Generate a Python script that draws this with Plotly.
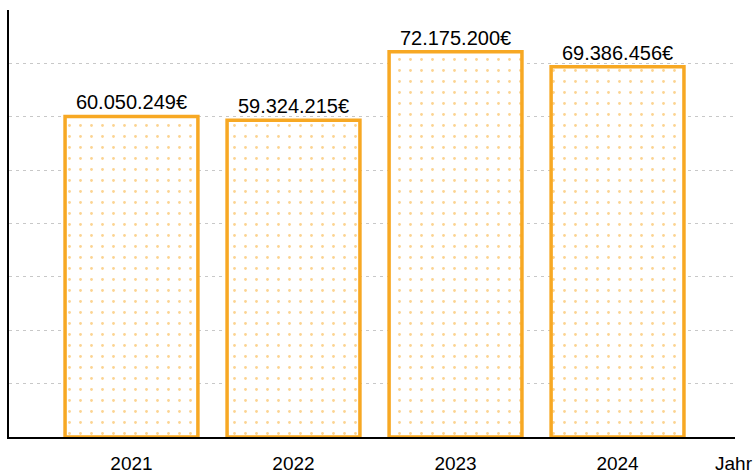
import plotly.graph_objects as go

years = ["2021", "2022", "2023", "2024"]
values = [60050249, 59324215, 72175200, 69386456]
axis_title = "Jahr"

orange = "#F7A823"

fig = go.Figure(go.Bar(
    x=years, y=values,
    width=0.82,
    marker=dict(
        color="white",
        line=dict(color=orange, width=3.5),
        pattern=dict(shape=".", fgcolor=orange, bgcolor="white", size=11, solidity=0.05),
    ),
    texttemplate="%{y:,.0f}€",
    textposition="outside",
    textfont=dict(family="Liberation Sans, Arial", size=20, color="black"),
    cliponaxis=False,
))

fig.update_layout(
    width=755, height=471,
    margin=dict(l=9, r=20, t=10, b=34, autoexpand=False),
    plot_bgcolor="white", paper_bgcolor="white",
    separators=",.",
    showlegend=False,
    font=dict(family="Liberation Sans, Arial", size=19, color="black"),
    xaxis=dict(
        range=[-0.756, 3.725],
        showline=True, linecolor="black", linewidth=2,
        ticks="", ticklabelstandoff=8,
        tickfont=dict(size=19),
        showgrid=False, zeroline=False, automargin=False,
    ),
    yaxis=dict(
        range=[0, 80000000], dtick=10000000,
        showline=True, linecolor="black", linewidth=2,
        showticklabels=False, ticks="",
        showgrid=True, gridcolor="#c8c8c8", gridwidth=1, griddash="3px,4px",
        zeroline=False, automargin=False,
    ),
    annotations=[dict(
        text=axis_title, xref="paper", yref="paper",
        x=(713 - 9) / 726, y=-(463 - 437) / 427,
        xanchor="left", yanchor="middle", showarrow=False,
        font=dict(size=19, color="black"),
    )],
)

fig.write_html("out.html", config={"displayModeBar": False},
               post_script="document.body.style.margin='0px';")
